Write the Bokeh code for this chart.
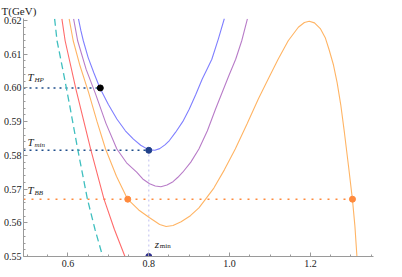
from bokeh.plotting import figure
from bokeh.models import Range1d, FixedTicker, Label
from bokeh.embed import file_html
from bokeh.resources import INLINE

# ---- data ----
cyan_z = [0.567, 0.573, 0.588, 0.604, 0.624, 0.648, 0.667, 0.686, 0.688]
cyan_T = [0.6205, 0.614, 0.605, 0.595, 0.5819, 0.5671, 0.558, 0.5500, 0.549]

red_z = [0.585, 0.593, 0.620, 0.656, 0.689, 0.715, 0.741, 0.744]
red_T = [0.6205, 0.614, 0.5995, 0.5819, 0.5671, 0.558, 0.5500, 0.549]

orange_z = [0.603, 0.613, 0.630, 0.651, 0.672, 0.693, 0.720, 0.747, 0.775, 0.802, 0.827,
            0.843, 0.860, 0.880, 0.903, 0.924, 0.941, 0.961, 0.987, 1.014, 1.043, 1.071,
            1.097, 1.120, 1.145, 1.170, 1.185, 1.197, 1.210, 1.225, 1.237, 1.246, 1.257,
            1.266, 1.275, 1.284, 1.294, 1.304, 1.310, 1.315, 1.317]
orange_T = [0.6205, 0.614, 0.6065, 0.5987, 0.5900, 0.5819, 0.5738, 0.5671, 0.5638, 0.5615,
            0.5595, 0.5589, 0.5592, 0.5603, 0.5621, 0.5644, 0.5671, 0.5703, 0.5757, 0.5819,
            0.5893, 0.5967, 0.6030, 0.6085, 0.6140, 0.6180, 0.6194, 0.6198, 0.6193, 0.6175,
            0.6148, 0.6114, 0.6068, 0.6016, 0.5950, 0.5868, 0.5770, 0.5668, 0.5590, 0.5500,
            0.5470]

purple_z = [0.614, 0.624, 0.645, 0.668, 0.694, 0.721, 0.745, 0.770, 0.785, 0.802, 0.816,
            0.830, 0.845, 0.860, 0.872, 0.884, 0.904, 0.924, 0.945, 0.965, 0.982, 0.998,
            1.015, 1.030, 1.044]
purple_T = [0.6205, 0.614, 0.6055, 0.5983, 0.5895, 0.5819, 0.5778, 0.5750, 0.5730, 0.5716,
            0.5709, 0.5707, 0.5712, 0.5722, 0.5735, 0.5750, 0.5780, 0.5819, 0.5873, 0.5937,
            0.5988, 0.6036, 0.6085, 0.6140, 0.6205]

blue_z = [0.626, 0.632, 0.638, 0.650, 0.664, 0.679, 0.700, 0.721, 0.742, 0.762, 0.780,
          0.799, 0.815, 0.827, 0.840, 0.851, 0.866, 0.884, 0.900, 0.916, 0.932, 0.945,
          0.956, 0.972, 0.987]
blue_T = [0.6205, 0.617, 0.614, 0.609, 0.6045, 0.600, 0.5951, 0.5908, 0.5873, 0.5848,
          0.5830, 0.5817, 0.5815, 0.5820, 0.5831, 0.5844, 0.5868, 0.5900, 0.5937, 0.5980,
          0.6026, 0.6058, 0.6085, 0.6145, 0.6206]

T_HP = 0.600
z_HP = 0.680
T_min = 0.5815
z_min = 0.800
T_BB = 0.567
z_BB = [0.748, 1.304]

x_major = [0.6, 0.8, 1.0, 1.2]
x_labels = ["0.6", "0.8", "1.0", "1.2"]
y_major = [0.55, 0.56, 0.57, 0.58, 0.59, 0.60, 0.61, 0.62]
y_labels = ["0.55", "0.56", "0.57", "0.58", "0.59", "0.60", "0.61", "0.62"]
y_title = "T(GeV)"

x_lo, x_hi = 0.49, 1.356
y_lo, y_hi = 0.55, 0.6206

SERIF = "Liberation Serif"

p = figure(frame_width=350, frame_height=238, output_backend="svg", toolbar_location=None,
           x_range=Range1d(x_lo, x_hi), y_range=Range1d(y_lo, y_hi),
           min_border_left=19, min_border_right=17, min_border_top=0, min_border_bottom=15,
           title=y_title)
p.title.align = "left"
p.title.offset = -22
p.title.standoff = 4
p.title.text_font = SERIF
p.title.text_font_size = "11px"
p.title.text_font_style = "normal"
p.title.text_color = "#222222"
p.outline_line_color = None
p.xgrid.visible = False
p.ygrid.visible = False
p.background_fill_color = "white"
p.border_fill_color = "white"

xminor = [round(0.5 + 0.05 * i, 2) for i in range(18)]
yminor = [round(0.55 + 0.002 * i, 3) for i in range(36)]
p.xaxis.ticker = FixedTicker(ticks=x_major, minor_ticks=xminor)
p.yaxis.ticker = FixedTicker(ticks=y_major, minor_ticks=yminor)
p.xaxis.major_label_overrides = dict(zip(x_major, x_labels))
p.yaxis.major_label_overrides = dict(zip(y_major, y_labels))
for ax in (p.xaxis[0], p.yaxis[0]):
    ax.axis_line_color = "#9a9a9a"
    ax.major_tick_line_color = "#9a9a9a"
    ax.minor_tick_line_color = "#9a9a9a"
    ax.major_tick_in = 4
    ax.major_tick_out = 0
    ax.minor_tick_in = 2
    ax.minor_tick_out = 0
    ax.major_label_text_font = SERIF
    ax.major_label_text_font_size = "10px"
    ax.major_label_text_color = "#222222"
p.yaxis.major_label_standoff = 2
p.xaxis.major_label_standoff = 3

# reference lines
p.line([x_lo, z_HP], [T_HP, T_HP], line_color="#1f4e8c", line_width=1.6, line_dash="2 4")
p.line([x_lo, z_min], [T_min, T_min], line_color="#1f4e8c", line_width=1.6, line_dash="2 4")
p.line([z_min, z_min], [y_lo, T_min], line_color="#c9c9f2", line_width=1.2, line_dash="2 3")
p.line([x_lo, z_BB[1]], [T_BB, T_BB], line_color="#ff8a3d", line_width=1.6, line_dash="2 6")

# curves
p.line(cyan_z, cyan_T, line_color="#3fbfbf", line_width=1.3, line_dash="7 4")
p.line(red_z, red_T, line_color="#ff6b6b", line_width=1.1)
p.line(orange_z, orange_T, line_color="#ffb464", line_width=1.1)
p.line(purple_z, purple_T, line_color="#b87cc8", line_width=1.1)
p.line(blue_z, blue_T, line_color="#7f7fff", line_width=1.1)

# points
p.scatter([z_HP], [T_HP], size=6, color="black")
p.scatter([z_min], [T_min], size=6, color="#1f3f8a")
p.scatter([z_min], [y_lo], size=6, color="#2f2f8f")
p.scatter(z_BB, [T_BB, T_BB], size=6, color="#ff8a3d")

def lab(x, y, text, size="11px", style="italic", xo=0, yo=0, align="left", baseline="middle"):
    p.add_layout(Label(x=x, y=y, text=text, x_offset=xo, y_offset=yo,
                       text_font=SERIF, text_font_size=size, text_font_style=style,
                       text_align=align, text_baseline=baseline, text_color="#222222"))

lab(0.500, 0.6031, "T")
lab(0.500, 0.6031, "HP", size="7px", xo=7, yo=-3)
lab(0.500, 0.5839, "T")
lab(0.500, 0.5839, "min", size="7px", xo=7, yo=-3)
lab(0.500, 0.5698, "T")
lab(0.500, 0.5698, "BB", size="7px", xo=7, yo=-3)
lab(0.815, 0.5537, "z")
lab(0.815, 0.5537, "min", size="7px", style="normal", xo=5, yo=-2)
lab(1.375, 0.5500, "z")
lab(1.375, 0.5500, "H", size="7px", xo=5, yo=-3)

open("out.html", "w").write(file_html(p, INLINE))
